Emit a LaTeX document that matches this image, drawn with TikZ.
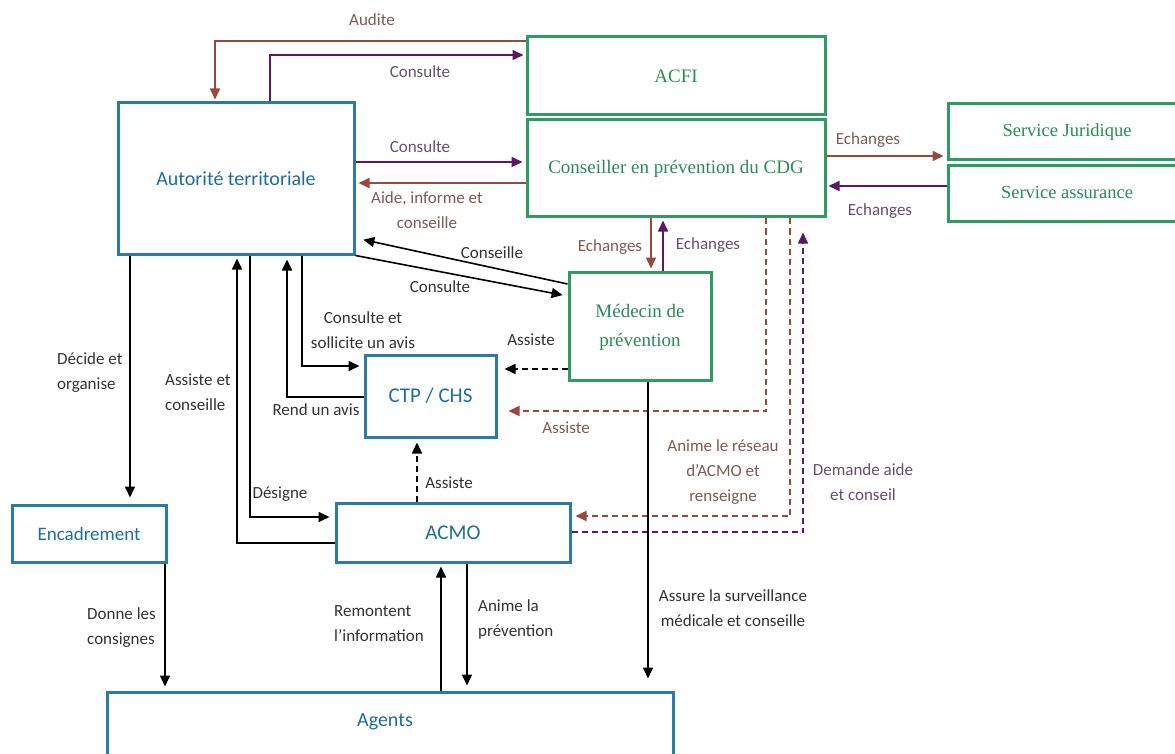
\documentclass[tikz,border=0pt]{standalone}
\usepackage{fontspec}
\setmainfont{Carlito}
\newfontfamily\serifg{Liberation Serif}
\newfontfamily\handf{Carlito}
\usetikzlibrary{arrows.meta}
\definecolor{bluec}{HTML}{2C7BA3}
\definecolor{bluet}{HTML}{1D6E98}
\definecolor{greenc}{HTML}{2E9C62}
\definecolor{greent}{HTML}{2A8A58}
\definecolor{brownc}{HTML}{9A473D}
\definecolor{purplec}{HTML}{5C1766}
\definecolor{labk}{HTML}{333333}
\definecolor{labb}{HTML}{7E5A56}
\definecolor{labp}{HTML}{66506C}
\begin{document}
\begin{tikzpicture}[x=1pt,y=-1pt,
  bluebox/.style={draw=bluec,line width=3pt,fill=white,text=bluet,font=\handf\fontsize{17}{20}\selectfont,inner sep=0pt,align=center},
  greenbox/.style={draw=greenc,line width=3pt,fill=white,text=greent,font=\serifg\fontsize{19}{29}\selectfont,inner sep=0pt,align=center},
  arr/.style={line width=1.6pt,-{Triangle[length=11pt,width=10pt]}},
  karr/.style={arr,draw=black},
  barr/.style={arr,draw=brownc},
  parr/.style={arr,draw=purplec},
  dsh/.style={dash pattern=on 6pt off 4pt},
  lab/.style={font=\fontsize{17}{25}\selectfont,inner sep=0pt,align=center},
  labK/.style={lab,text=labk},
  labB/.style={lab,text=labb},
  labP/.style={lab,text=labp},
]
\useasboundingbox[fill=white] (0,0) rectangle (1175,754);

% boxes
\node[bluebox,minimum width=236pt,minimum height=151pt,font=\handf\fontsize{20}{24}\selectfont] (aut) at (236,178.5) {Autorité territoriale};
\node[greenbox,minimum width=298pt,minimum height=78pt] (acfi) at (676,76) {ACFI};
\node[greenbox,minimum width=298pt,minimum height=97pt] (cons) at (676,168.5) {\raisebox{3pt}{Conseiller en prévention du CDG}};
\node[greenbox,minimum width=238pt,minimum height=56pt,font=\serifg\fontsize{18.5}{20}\selectfont] (jur) at (1067,132) {Service Juridique};
\node[greenbox,minimum width=238pt,minimum height=56pt,font=\serifg\fontsize{18.5}{20}\selectfont] (ass) at (1067,194) {\raisebox{3pt}{Service assurance}};
\node[greenbox,minimum width=142pt,minimum height=108pt] (med) at (640,326) {\raisebox{4pt}{\begin{tabular}{@{}c@{}}Médecin de\\prévention\end{tabular}}};
\node[bluebox,minimum width=131pt,minimum height=82pt,font=\handf\fontsize{21}{24}\selectfont] (ctp) at (430.5,396) {CTP / CHS};
\node[bluebox,minimum width=154pt,minimum height=57pt,font=\handf\fontsize{19}{20}\selectfont] (enc) at (89,533.5) {Encadrement};
\node[bluebox,minimum width=234pt,minimum height=59pt,font=\handf\fontsize{21}{24}\selectfont] (acmo) at (453,532.5) {ACMO};
\node[bluebox,minimum width=566pt,minimum height=86pt] (ag) at (390,735) {};
\node[text=bluet,font=\handf\fontsize{20}{24}\selectfont,inner sep=0pt] (agt) at (385,722) {Agents};

% guide coordinates
\coordinate (yAud) at (0,41);
\coordinate (xAud) at (215,0);
\coordinate (yCo1) at (0,55);
\coordinate (xCo1) at (270,0);
\coordinate (yCo2) at (0,162);
\coordinate (yAid) at (0,183);
\coordinate (yEJ) at (0,156);
\coordinate (yEA) at (0,186);
\coordinate (xED) at (651,0);
\coordinate (xEU) at (663,0);
\coordinate (yCsl) at (0,284);
\coordinate (yCsl2) at (0,238);
\coordinate (yCst) at (0,296);
\coordinate (xSol) at (302,0);
\coordinate (ySol) at (0,366);
\coordinate (xRen) at (287,0);
\coordinate (yRen) at (0,397);
\coordinate (yAsM) at (0,369);
\coordinate (xAsC) at (766,0);
\coordinate (yAsC) at (0,411);
\coordinate (xAni) at (790,0);
\coordinate (yAni) at (0,516);
\coordinate (xDem) at (803,0);
\coordinate (yDem) at (0,532);
\coordinate (xAsA) at (417,0);
\coordinate (xDec) at (130,0);
\coordinate (xAec) at (237,0);
\coordinate (yAec) at (0,543);
\coordinate (xDes) at (250,0);
\coordinate (yDes) at (0,517);
\coordinate (xDon) at (165,0);
\coordinate (xRem) at (441,0);
\coordinate (xAnP) at (467,0);
\coordinate (xAss) at (648,0);

% connectors
\draw[barr,shorten >=2pt] (acfi.west |- yAud) -| (aut.north -| xAud);
\draw[parr,shorten >=2pt] (aut.north -| xCo1) |- (acfi.west |- yCo1);
\draw[parr,shorten >=3pt] (aut.east |- yCo2) -- (cons.west |- yCo2);
\draw[barr,shorten >=3pt] (cons.west |- yAid) -- (aut.east |- yAid);
\draw[barr,shorten >=3pt] (cons.east |- yEJ) -- (jur.west |- yEJ);
\draw[parr,shorten >=2pt] (ass.west |- yEA) -- (cons.east |- yEA);
\draw[barr,shorten >=2pt] (cons.south -| xED) -- (med.north -| xED);
\draw[parr,shorten >=2pt] (med.north -| xEU) -- (cons.south -| xEU);
\draw[karr,shorten >=8pt] (med.west |- yCsl) -- (aut.east |- yCsl2);
\draw[karr,shorten >=5pt] (aut.south east) -- (med.west |- yCst);
\draw[karr,shorten >=4pt] (aut.south -| xSol) |- (ctp.west |- ySol);
\draw[karr,shorten >=4pt] (ctp.west |- yRen) -| (aut.south -| xRen);
\draw[karr,dsh,shorten >=7pt] (med.west |- yAsM) -- (ctp.east |- yAsM);
\draw[barr,dsh,shorten >=11pt] (cons.south -| xAsC) |- (ctp.east |- yAsC);
\draw[barr,dsh,shorten >=4pt] (cons.south -| xAni) |- (acmo.east |- yAni);
\draw[parr,dsh,shorten >=14pt] (acmo.east |- yDem) -| (cons.south -| xDem);
\draw[karr,dsh,shorten >=4pt] (acmo.north -| xAsA) -- (ctp.south -| xAsA);
\draw[karr,shorten >=6pt] (aut.south -| xDec) -- (enc.north -| xDec);
\draw[karr,shorten >=3pt] (acmo.west |- yAec) -| (aut.south -| xAec);
\draw[karr,shorten >=5pt] (aut.south -| xDes) |- (acmo.west |- yDes);
\draw[karr,shorten >=4pt] (enc.south -| xDon) -- (ag.north -| xDon);
\draw[karr,shorten >=3pt] (ag.north -| xRem) -- (acmo.south -| xRem);
\draw[karr,shorten >=5pt] (acmo.south -| xAnP) -- (ag.north -| xAnP);
\draw[karr,shorten >=12pt] (med.south -| xAss) -- (ag.north -| xAss);

% labels
\node[labB] (lAud) at (372,20) {Audite};
\node[labP] (lCo1) at (420,72) {Consulte};
\node[labP] (lCo2) at (420,147) {Consulte};
\node[labB] (lAid) at (427,210) {Aide, informe et\\conseille};
\node[labB] (lEJ) at (868,140) {Echanges};
\node[labP] (lEA) at (880,211) {Echanges};
\node[labB] (lED) at (610,247) {Echanges};
\node[labP] (lEU) at (708,245) {Echanges};
\node[labK] (lCsl) at (492,253) {Conseille};
\node[labK] (lCst) at (440,287) {Consulte};
\node[labK] (lSol) at (363,330.5) {Consulte et\\sollicite un avis};
\node[labK] (lRen) at (316,410) {Rend un avis};
\node[labK] (lAsM) at (531,340) {Assiste};
\node[labB] (lAsC) at (566,428) {Assiste};
\node[labB] (lAni) at (723,472) {Anime le réseau\\d’ACMO et\\renseigne};
\node[labP] (lDem) at (863,482) {Demande aide\\et conseil};
\node[labK] (lAsA) at (449,483) {Assiste};
\node[labK,align=left,anchor=west] (lDec) at (57,373) {Décide et\\organise};
\node[labK,align=left,anchor=west] (lAec) at (165,392) {Assiste et\\conseille};
\node[labK] (lDes) at (280,494) {Désigne};
\node[labK,align=left,anchor=west] (lDon) at (87,628) {Donne les\\consignes};
\node[labK,align=left,anchor=west] (lRem) at (334,624) {Remontent\\l’information};
\node[labK,align=left,anchor=west] (lAnP) at (478,619.5) {Anime la\\prévention};
\node[labK] (lAss) at (733,608) {Assure la surveillance\\médicale et conseille};
\end{tikzpicture}
\end{document}
